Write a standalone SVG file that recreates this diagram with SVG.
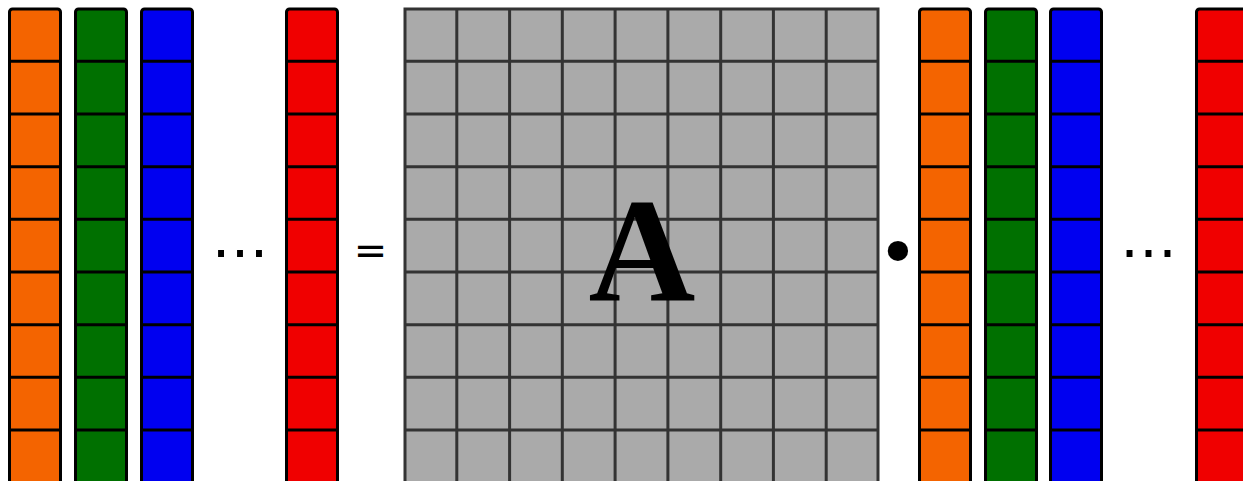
<svg xmlns="http://www.w3.org/2000/svg" width="1243" height="481" viewBox="0 0 1243 481">
<defs>
<style>
.col{stroke:#000;stroke-width:3}
.cell{stroke:#000;stroke-width:3;fill:none}
.o{fill:#f46400}
.g{fill:#007000}
.b{fill:#0000f0}
.r{fill:#f00000}
.grid{fill:#aaaaaa;stroke:#333;stroke-width:3}
.gl{stroke:#333;stroke-width:3;fill:none}
.sym{font-family:"DejaVu Sans",sans-serif;fill:#000}
</style>
<path id="rows" class="cell" d="M0 61.3H51M0 114H51M0 166.7H51M0 219.3H51M0 272H51M0 324.7H51M0 377.3H51M0 430H51"/>
</defs>
<g id="left-orange"><rect class="col o" x="9.5" y="9" width="51" height="500" rx="3"/><use href="#rows" x="9.5"/></g>
<g id="left-green"><rect class="col g" x="75.5" y="9" width="51" height="500" rx="3"/><use href="#rows" x="75.5"/></g>
<g id="left-blue"><rect class="col b" x="141.5" y="9" width="51" height="500" rx="3"/><use href="#rows" x="141.5"/></g>
<g id="left-dots"><text class="sym" x="240" y="257" font-size="57" text-anchor="middle" font-family="Liberation Sans">…</text></g>
<g id="left-red"><rect class="col r" x="286.5" y="9" width="51" height="500" rx="3"/><use href="#rows" x="286.5"/></g>
<g id="equals"><text class="sym" x="370.5" y="264" font-size="40" text-anchor="middle">=</text></g>
<g id="matrix-A">
<rect class="grid" x="405" y="9" width="473" height="500"/>
<path class="gl" d="M456.8 9V481M509.6 9V481M562.3 9V481M615.1 9V481M667.9 9V481M720.7 9V481M773.4 9V481M826.2 9V481M405 61.3H878M405 114H878M405 166.7H878M405 219.3H878M405 272H878M405 324.7H878M405 377.3H878M405 430H878"/>
<text x="642" y="300" font-size="148" font-weight="bold" text-anchor="middle" font-family="Liberation Serif, serif">A</text>
</g>
<g id="dot-op"><text class="sym" x="898" y="277" font-size="70" text-anchor="middle">•</text></g>
<g id="right-orange"><rect class="col o" x="919.5" y="9" width="51" height="500" rx="3"/><use href="#rows" x="919.5"/></g>
<g id="right-green"><rect class="col g" x="985.5" y="9" width="51" height="500" rx="3"/><use href="#rows" x="985.5"/></g>
<g id="right-blue"><rect class="col b" x="1050.5" y="9" width="51" height="500" rx="3"/><use href="#rows" x="1050.5"/></g>
<g id="right-dots"><text class="sym" x="1148.5" y="257" font-size="57" text-anchor="middle" font-family="Liberation Sans">…</text></g>
<g id="right-red"><rect class="col r" x="1196.5" y="9" width="51" height="500" rx="3"/><use href="#rows" x="1196.5"/></g>
<g id="connectors"></g>
</svg>
